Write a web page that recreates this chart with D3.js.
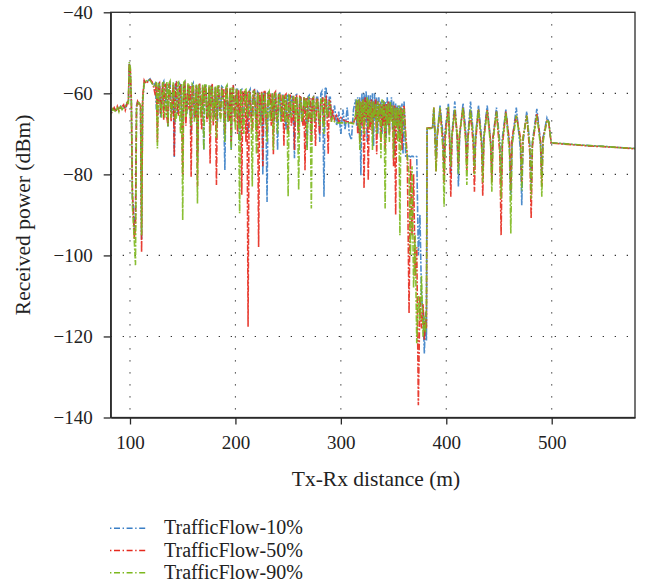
<!DOCTYPE html>
<html>
<head>
<meta charset="utf-8">
<script src="https://cdn.jsdelivr.net/npm/d3@7"></script>
<style>
body { margin: 0; background: #fff; }
text { font-family: "Liberation Serif", "Times New Roman", serif; fill: #222; }
</style>
</head>
<body>
<svg id="chart" width="653" height="588"></svg>
<script>
// Tx-Rx distance (m), shared by the three runs
const distance = [
  82,83.5,85,86.5,88,89.5,91,92.5,94,95.5,97,98.5,99.3,100.3,101.3,102.3,103.2,104.2,105.2,106.2,107.2,108.5,110,111,112,113.5,115,117,119,121,122.5,
  124,125,126,127,128,129,130,131,132,133,
  134,135,136,137,138,139,140,141,142,143,
  144,145,146,147,148,149,150,151,152,153,
  154,155,156,157,158,159,160,161,162,163,
  164,165,166,167,168,169,170,171,172,173,
  174,175,176,177,178,179,180,181,182,183,
  184,185,186,187,188,189,190,191,192,193,
  194,195,196,197,198,199,200,201,202,203,
  204,205,206,207,208,209,210,211,212,213,
  214,215,216,217,218,219,220,221,222,223,
  224,225,226,227,228,229,230,231,232,233,
  234,235,236,237,238,239,240,241,242,243,
  244,245,246,247,248,249,250,251,252,253,
  254,255,256,257,258,259,260,261,262,263,
  264,265,266,267,268,269,270,271,272,273,
  274,275,276,277,278,279,280,281,282,283,
  284,285,286,287,288,289,290,291,292,
  294,296,298,300,302,304,306,308,310,312,
  314,315,316,317,318,319,320,321,322,323,
  324,325,326,327,328,329,330,331,332,333,
  334,335,336,337,338,339,340,341,342,343,
  344,345,346,347,348,349,350,351,352,353,
  354,355,356,357,358,359,360,
  361.5,363,364.7,366,367.5,369,370.5,372,373.5,375,376.5,378,379.2,380.3,381.2,381.8,384.5,387,
  388.2,389.2,390.3,391.4,394.1,396.8,397.9,399,402,403.2,404.3,405.4,408.1,410.4,411.5,412.6,415.9,418.4,419.5,420.6,423,425.6,426.7,427.8,430.5,433.5,434.6,435.7,438.8,442.1,443.2,444.3,447.6,450.8,452,453.2,456.5,460,461.2,462.4,466.4,470.4,471.6,472.8,476.3,479.3,480.5,481.7,485.9,489.4,490.6,491.8,495.5,497.2,499.5,
  510,530,550,565,579
];

// received power (dBm), traffic flow 10%
const power10 = [
  -65,-64,-63.8,-64.2,-63.5,-64,-63.2,-63.8,-63.2,-63.8,-62.5,-62,-52.5,-55,-62.5,-86,-88,-94,-90,-63,-62.2,-62.5,-62.8,-96,-62,-57,-57.3,-56.9,-56.4,-57.5,-58,
  -57.5,-64,-62,-57.8,-57.2,-66,-63.5,-57.5,-57,-64,
  -60,-57.6,-68.2,-58,-57.5,-64,-65,-58,-75.7,-57.8,
  -57,-65,-63,-57.6,-58,-66,-67,-57.8,-57.3,-63,
  -65,-57.8,-58.5,-64,-70,-58,-57.5,-66,-62,-58,
  -76,-58.2,-58,-65,-64,-58.3,-74,-58,-57.8,-66,
  -63,-58.5,-68,-58.2,-58,-64,-66,-58.5,-62,-67,
  -58,-63,-64,-58.3,-58.6,-66,-78.9,-58.5,-58.2,-67,
  -63,-58.8,-74,-59,-58.5,-64,-66,-59,-59,-65,
  -72,-59.2,-59,-67,-65,-59.4,-59.5,-64,-70,-59.5,
  -59,-66,-64,-59.5,-59.2,-65,-68,-59.6,-60,-64,
  -66,-60,-80,-60,-59.5,-66,-86.8,-60,-59.3,-65,
  -66,-60,-62,-67,-59.8,-64,-74,-60.2,-60,-66,
  -65,-60.3,-61,-65,-69,-60.5,-60.2,-66,-65,-60.6,
  -60.5,-66,-76,-60.5,-60.3,-65,-68,-60.8,-61,-67,
  -66,-61,-62,-66,-74,-60.8,-60.5,-65,-70,-61,
  -60.8,-66,-67,-61,-61,-65,-72,-60,-59.5,-66,
  -85.5,-59,-58.4,-64,-66,-61,-61,-66,-65.5,
  -63,-68,-64.5,-70,-64,-69,-63.5,-70,-71.5,-64,
  -61.5,-68,-61,-70,-61,-80.2,-60,-66,-60,-67,
  -59.5,-72,-60.5,-68,-60.5,-66,-60,-73,-60,-67,
  -61,-70,-61,-66,-62,-70,-61.5,-67,-62,-71,
  -61,-68,-62,-66,-61,-69,-62,-75,-62.5,-68,
  -63,-70,-63,-67,-62.5,-75,-62,
  -75.5,-75.5,-75.5,-75.7,-75.5,-75.6,-75.5,-75.6,-100,-90,-110,-115,-124.2,-114,-121,-68.6,-68.6,-68.5,
  -64,-69,-76,-70,-63,-70,-78,-69,-62.5,-71,-80,-70,-62,-72,-83,-71,-62.5,-69,-76,-70,-62,-70,-78,-71,-63,-71,-79,-70,-63,-72,-80,-71,-63.5,-72,-82,-71,-64,-73,-85,-72,-63.5,-74,-87.6,-72,-64.5,-73,-84,-72,-63.8,-72,-80,-71,-66,-67,-72.2,
  -72.4,-72.8,-73.1,-73.4,-73.6
];

// received power (dBm), traffic flow 50%
const power50 = [
  -65,-64.2,-63.5,-64.5,-63.2,-64.3,-63.5,-63.3,-62.8,-64.2,-62.8,-61.5,-52.8,-54,-62,-84,-90,-96,-93,-63.5,-62,-62.7,-62.5,-99.2,-61,-56.8,-57.6,-57.1,-56.6,-57.2,-58.5,
  -60.5,-57.3,-72,-58,-57.5,-65,-61,-57.4,-66.5,-58,
  -57.8,-66,-68,-57.6,-58.2,-67,-62,-57.8,-75.5,-58,
  -57.5,-64,-65.5,-57.9,-58,-66,-80,-58,-57.6,-68,
  -61.5,-58,-64,-58.2,-80.6,-58.4,-58,-64,-66,-58,
  -83,-58.5,-57.5,-63,-69,-58.4,-62.5,-58,-58.8,-67,
  -65,-58.5,-77.3,-58.4,-57.7,-68,-63,-58.6,-82.6,-58.8,
  -58.5,-64,-66,-58.7,-61,-59,-70,-58.7,-58.6,-65,
  -67,-58.9,-72,-59,-58,-67,-62,-59,-70,-59.2,
  -68,-59.3,-85,-59.5,-62,-59.3,-72,-59.5,-117.6,-59.4,
  -60,-66,-69,-59.6,-59,-64,-70,-59.8,-97.9,-59.8,
  -63,-59.6,-78,-59.8,-59.2,-66,-70,-60,-62,-60,
  -68,-60.2,-75,-60,-59.6,-67,-66,-60.2,-61,-60.3,
  -67,-60.4,-73,-60.5,-60.2,-66,-70,-60.5,-60.5,-68,
  -66,-60.6,-74,-60.8,-60.6,-66,-70,-60.8,-61,-65,
  -68,-61,-79,-61,-61.2,-67,-66,-61.2,-72,-61.3,
  -61,-66,-73,-61.2,-61.5,-67,-70,-61.5,-62,-61,
  -68,-61.5,-61,-66,-75,-61.5,-62,-67,-64,
  -66.5,-65.5,-67,-66,-66.5,-66.8,-67,-67,-67.2,-67.3,
  -66,-62,-70,-61.5,-72,-62,-68,-61.5,-83.5,-61,
  -66,-61.5,-81.5,-62,-69,-61.5,-70,-62,-66,-61.5,
  -75,-62,-67,-62.5,-72,-63,-68,-62,-74,-62.5,
  -67,-62,-70,-62.5,-66,-63,-78,-63,-90,-63.5,
  -68,-64,-72,-63.5,-74,-64,-63,
  -70,-75.5,-114.3,-76,-95,-80,-105,-98,-137,-110,-118,-112,-121,-116,-118,-68.6,-68.5,-68.6,
  -63.5,-70,-79.3,-71,-64,-72,-82,-70,-63.5,-73,-85.5,-71,-64,-70,-78,-70,-63.5,-71,-79,-71,-64.5,-73,-84.3,-72,-64,-73,-85.3,-71,-64,-72,-82,-71,-64.5,-75,-95,-73,-64.5,-72,-84,-71,-65.5,-71,-82,-71,-65.5,-75,-90.9,-73,-65,-72,-83,-71,-66.8,-67.2,-72.3,
  -72.5,-72.9,-73.2,-73.4,-73.7
];

// received power (dBm), traffic flow 90%
const power90 = [
  -65.2,-63.8,-64.2,-64.5,-63.3,-64.5,-63,-64,-63.5,-63.2,-62.3,-62.5,-52.3,-53.5,-61.5,-88,-92,-97,-102.4,-64,-62.3,-62.3,-63,-95,-62.5,-57.2,-57,-56.7,-56.8,-57.6,-58.2,
  -57.8,-57.2,-73.6,-57.5,-58,-64,-66,-57.4,-57.3,-66,
  -63,-57.2,-68.2,-57.5,-57,-66,-64.5,-57.3,-59,-67,
  -66,-57.5,-57.2,-65,-70,-57.6,-91.3,-57.3,-57,-66,
  -64,-57.5,-58,-65,-68,-57.6,-57.8,-67,-63,-57.8,
  -87.2,-57.8,-58.3,-66,-62,-57.9,-74,-58,-57.6,-65,
  -66,-58,-70,-58.2,-58.5,-67,-62.5,-58.3,-71,-58.2,
  -57.9,-65,-67,-58.4,-60,-66,-72,-58.5,-58,-67,
  -65,-58.6,-74,-58.7,-58.8,-64,-69,-58.9,-61,-66,
  -89.6,-59,-60,-67,-70,-59.2,-59,-65,-66,-59.4,
  -60.5,-67,-83,-59.5,-59.5,-66,-75,-59.8,-61,-66,
  -68,-59.8,-64,-66,-60,-65,-72,-60,-59.5,-67,
  -64,-60,-74,-60.2,-60,-66,-70,-60.3,-60.2,-67,
  -66,-60.4,-62,-67,-60.5,-64,-85.5,-60.6,-61,-66,
  -64,-60.7,-62,-67,-60.8,-66,-83.9,-61,-61.5,-67,
  -66,-61,-64,-61.2,-74,-61,-61,-66,-88.4,-61.2,
  -61,-67,-65,-61.4,-62,-66,-68,-61.5,-61.5,-67,
  -70,-61.6,-62,-66,-64,-62,-63,-67,-66,
  -67,-67.3,-67.3,-67.3,-67.3,-67.3,-67.3,-67.3,-67.4,-67.5,
  -65,-61.5,-68,-61.5,-74,-62,-67,-61.5,-70,-62,
  -66,-61,-69,-61.5,-67,-62,-74,-62,-66,-62.5,
  -70,-62,-67,-62.5,-76,-61.5,-66,-62,-88.4,-63,
  -68,-62.5,-72,-62,-67,-63,-76,-63.5,-68,-63.5,
  -72,-63,-95,-63.5,-70,-64,-64,
  -72,-75.5,-80,-100,-78,-108,-95,-121.7,-110,-116,-105,-120,-115,-119,-112,-68.6,-68.7,-68.6,
  -63.5,-70,-79.3,-70,-63.5,-74,-88,-72,-63.3,-70,-78,-70,-64,-71,-80,-70,-63.5,-72,-82.6,-71,-64,-71,-80,-70,-64,-72,-82,-71,-64.3,-73,-84.3,-72,-64.5,-73,-86,-72,-64.8,-75,-94.6,-73,-65.5,-72,-84,-71,-65.5,-73,-86,-72,-65.5,-73,-85.5,-72,-66.6,-67,-72.2,
  -72.4,-72.8,-73.1,-73.4,-73.6
];

const seriesNames = ['TrafficFlow-10%', 'TrafficFlow-50%', 'TrafficFlow-90%'];
const seriesColors = ['#3a7fc6', '#e5291d', '#7db81e'];
const xTicks = [100, 200, 300, 400, 500];
const yTicks = [-140, -120, -100, -80, -60, -40];

const svg = d3.select('#chart');
const plotLeft = 110.7, plotRight = 635, plotTop = 12.3, plotBottom = 417.5;

const x = d3.scaleLinear().domain([81.7, 579]).range([plotLeft, plotRight]);
const y = d3.scaleLinear().domain([-140, -40]).range([plotBottom, plotTop]);

// dotted grid
svg.append('g').selectAll('line')
  .data(xTicks)
  .join('line')
  .attr('x1', d => x(d)).attr('x2', d => x(d))
  .attr('y1', plotTop).attr('y2', plotBottom)
  .style('stroke', '#333')
  .style('stroke-width', 1.1)
  .style('stroke-dasharray', '1.3,10.7');

svg.append('g').selectAll('line')
  .data(yTicks.filter(d => d > -140 && d < -40))
  .join('line')
  .attr('x1', plotLeft).attr('x2', plotRight)
  .attr('y1', d => y(d)).attr('y2', d => y(d))
  .style('stroke', '#333')
  .style('stroke-width', 1.1)
  .style('stroke-dasharray', '1.3,10.7');

// the three runs, drawn in legend order
const line = d3.line().x(d => x(d[0])).y(d => y(d[1]));
const runs = [power10, power50, power90];

runs.forEach((p, i) => {
  const n = Math.min(distance.length, p.length);
  const pts = d3.range(n).map(k => [distance[k], p[k]]);
  svg.append('path')
    .datum(pts)
    .attr('d', line)
    .style('fill', 'none')
    .style('stroke', seriesColors[i])
    .style('stroke-width', 1.6)
    .style('stroke-opacity', 0.9)
    .style('stroke-dasharray', '2,1.6,6.5,1.6');
});

// box
svg.append('rect')
  .attr('x', plotLeft).attr('y', plotTop)
  .attr('width', plotRight - plotLeft).attr('height', plotBottom - plotTop)
  .style('fill', 'none')
  .style('stroke', '#2a2a2a')
  .style('stroke-width', 1.3);

// axes
const xAxis = svg.append('g')
  .attr('transform', `translate(0,${plotBottom})`)
  .call(d3.axisBottom(x).tickValues(xTicks).tickSize(7).tickSizeOuter(0).tickPadding(11));

const yAxis = svg.append('g')
  .attr('transform', `translate(${plotLeft},0)`)
  .call(d3.axisLeft(y).tickValues(yTicks).tickSize(7).tickSizeOuter(0).tickPadding(11));

[xAxis, yAxis].forEach(g => {
  g.select('.domain').style('stroke', '#2a2a2a').style('stroke-width', 1.3);
  g.selectAll('.tick line').style('stroke', '#2a2a2a').style('stroke-width', 1.3);
  g.selectAll('.tick text')
    .style('font-family', '"Liberation Serif", serif')
    .style('font-size', '19px')
    .style('fill', '#222');
});

// axis titles
svg.append('text')
  .attr('x', 376)
  .attr('y', 485.7)
  .attr('text-anchor', 'middle')
  .style('font-size', '21.5px')
  .text('Tx-Rx distance (m)');

svg.append('text')
  .attr('transform', `translate(30,${(plotTop + plotBottom) / 2}) rotate(-90)`)
  .attr('text-anchor', 'middle')
  .style('font-size', '21.5px')
  .text('Received power (dBm)');

// legend
const legend = svg.append('g');
seriesNames.forEach((name, i) => {
  const ly = 528.3 + i * 22.2;
  legend.append('line')
    .attr('x1', 110).attr('x2', 146)
    .attr('y1', ly).attr('y2', ly)
    .style('stroke', seriesColors[i])
    .style('stroke-width', 1.4)
    .style('stroke-dasharray', '1.4,2.6,6,2.6');
  legend.append('text')
    .attr('x', 164)
    .attr('y', ly + 6)
    .style('font-size', '20px')
    .text(name);
});
</script>
</body>
</html>
